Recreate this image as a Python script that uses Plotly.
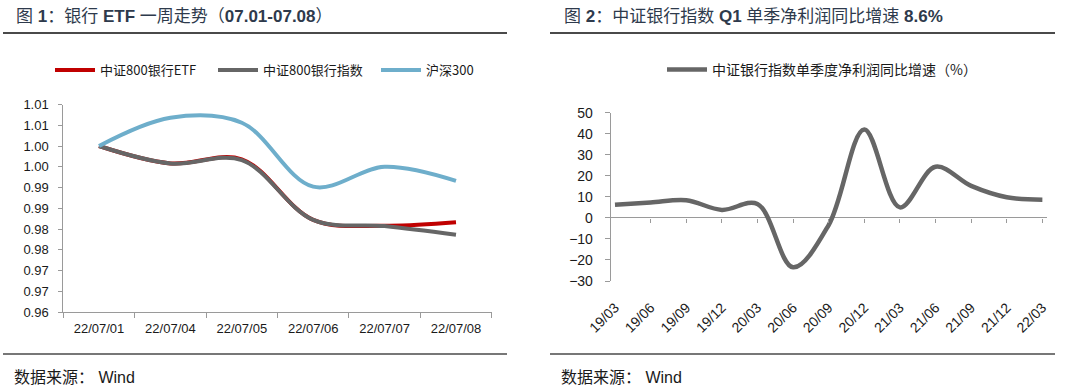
import plotly.graph_objects as go

# ---------------- data ----------------
dates_left = ["22/07/01", "22/07/04", "22/07/05", "22/07/06", "22/07/07", "22/07/08"]
etf_values = [1.0000, 0.9958, 0.9968, 0.9822, 0.9808, 0.9816]
bank_index_values = [1.0000, 0.9958, 0.9966, 0.9822, 0.9807, 0.9786]
hs300_values = [1.0000, 1.0068, 1.0056, 0.9902, 0.9950, 0.9916]
left_ytick_vals = [0.96, 0.965, 0.97, 0.975, 0.98, 0.985, 0.99, 0.995, 1.0, 1.005, 1.01]
left_ytick_text = ["0.96", "0.97", "0.97", "0.98", "0.98", "0.99", "0.99", "1.00", "1.00", "1.01", "1.01"]

quarters = ["19/03", "19/06", "19/09", "19/12", "20/03", "20/06", "20/09",
            "20/12", "21/03", "21/06", "21/09", "21/12", "22/03"]
profit_growth = [6.3, 7.3, 8.4, 3.8, 6.6, -23.5, -3.4, 42.0, 5.0, 24.3, 15.2, 9.8, 8.6]
right_ytick_vals = [-30, -20, -10, 0, 10, 20, 30, 40, 50]

# ---------------- styling ----------------
W, H = 1080, 387
FONT = "Liberation Sans, Arial, Noto Sans CJK SC, sans-serif"
CJK = "Noto Sans CJK SC, Liberation Sans, sans-serif"
TITLE_FONT = "Liberation Sans, Noto Sans CJK SC, sans-serif"
AXIS_COLOR = "#9a9a9a"
TEXT_COLOR = "#1a1a1a"
TITLE_COLOR = "#2e3a4c"
RED = "#c00000"
GRAY = "#666666"
BLUE = "#6eaecb"


def px_x(v):
    return v / W


def px_y(v):
    return (H - v) / H


fig = go.Figure()

# left chart
fig.add_trace(go.Scatter(x=dates_left, y=etf_values, name="中证800银行ETF", mode="lines",
                         line=dict(color=RED, width=4, shape="spline", smoothing=1.0),
                         xaxis="x", yaxis="y", legend="legend"))
fig.add_trace(go.Scatter(x=dates_left, y=bank_index_values, name="中证800银行指数", mode="lines",
                         line=dict(color=GRAY, width=4, shape="spline", smoothing=1.0),
                         xaxis="x", yaxis="y", legend="legend"))
fig.add_trace(go.Scatter(x=dates_left, y=hs300_values, name="沪深300", mode="lines",
                         line=dict(color=BLUE, width=4, shape="spline", smoothing=1.0),
                         xaxis="x", yaxis="y", legend="legend"))

# right chart
fig.add_trace(go.Scatter(x=quarters, y=profit_growth, name="中证银行指数单季度净利润同比增速（%）",
                         mode="lines",
                         line=dict(color=GRAY, width=4.5, shape="spline", smoothing=1.0),
                         xaxis="x2", yaxis="y2", legend="legend2"))
# invisible helper trace for tick marks on the zero line
fig.add_trace(go.Scatter(x=quarters, y=profit_growth, mode="lines", opacity=0,
                         showlegend=False, hoverinfo="skip", xaxis="x3", yaxis="y2"))

left_xdom = [px_x(63.3), px_x(491.7)]
left_ydom = [px_y(312), px_y(104.5)]
right_xdom = [px_x(610.7), px_x(1047)]
right_ydom = [px_y(281), px_y(112.7)]
xr = [-0.12, 12.13]
zero_pos = right_ydom[0] + (right_ydom[1] - right_ydom[0]) * 30 / 80

fig.update_layout(
    template="none",
    width=W, height=H,
    margin=dict(l=0, r=0, t=0, b=0, pad=0, autoexpand=False),
    paper_bgcolor="white", plot_bgcolor="white",
    font=dict(family=FONT, size=13, color=TEXT_COLOR),
    xaxis=dict(domain=left_xdom, anchor="y", type="category", range=[-0.5, 5.5],
               showline=True, linecolor=AXIS_COLOR, linewidth=1, automargin=False,
               ticks="outside", ticklen=5, tickcolor=AXIS_COLOR, tickson="boundaries",
               showgrid=False, zeroline=False, tickfont=dict(size=13, family=FONT),
               ticklabelstandoff=4),
    yaxis=dict(domain=left_ydom, anchor="x", range=[0.96, 1.01], automargin=False,
               tickvals=left_ytick_vals, ticktext=left_ytick_text,
               showline=True, linecolor=AXIS_COLOR, linewidth=1,
               ticks="outside", ticklen=4, tickcolor=AXIS_COLOR,
               showgrid=False, zeroline=False, tickfont=dict(size=13, family=FONT),
               ticklabelstandoff=7),
    xaxis2=dict(domain=right_xdom, anchor="y2", type="category", range=xr, automargin=False,
                showline=False, ticks="outside", ticklen=12, tickcolor="rgba(0,0,0,0)",
                tickangle=-45, showgrid=False, zeroline=False,
                tickfont=dict(size=14, family=FONT)),
    xaxis3=dict(domain=right_xdom, anchor="free", position=zero_pos, overlaying="x2",
                type="category", range=xr, showline=False, showticklabels=False,
                ticks="outside", ticklen=4, tickcolor=AXIS_COLOR, automargin=False,
                tickvals=quarters[1:], showgrid=False, zeroline=False),
    yaxis2=dict(domain=right_ydom, anchor="x2", range=[-30, 50], tickvals=right_ytick_vals,
                showline=True, linecolor=AXIS_COLOR, linewidth=1, automargin=False,
                ticks="outside", ticklen=5, tickcolor=AXIS_COLOR,
                showgrid=False, zeroline=True, zerolinecolor=AXIS_COLOR, zerolinewidth=1,
                tickfont=dict(size=14, family=FONT), ticklabelstandoff=9),
    legend=dict(orientation="h", x=px_x(50), y=px_y(70), xanchor="left", yanchor="middle",
                font=dict(size=13, family=CJK, color=TEXT_COLOR), bgcolor="rgba(0,0,0,0)",
                entrywidth=108, entrywidthmode="pixels", itemwidth=40),
    legend2=dict(orientation="h", x=px_x(662), y=px_y(70), xanchor="left", yanchor="middle",
                 font=dict(size=14, family=CJK, color=TEXT_COLOR), bgcolor="rgba(0,0,0,0)",
                 itemwidth=40),
    showlegend=True,
)

# titles
fig.add_annotation(x=px_x(14), y=px_y(16), xref="paper", yref="paper", xanchor="left",
                   yanchor="middle", showarrow=False,
                   text="图 <b>1</b>：银行 <b>ETF</b> 一周走势（<b>07.01-07.08</b>）",
                   font=dict(size=17, color=TITLE_COLOR, family=TITLE_FONT))
fig.add_annotation(x=px_x(562), y=px_y(16), xref="paper", yref="paper", xanchor="left",
                   yanchor="middle", showarrow=False,
                   text="图 <b>2</b>：中证银行指数 <b>Q1</b> 单季净利润同比增速 <b>8.6%</b>",
                   font=dict(size=17, color=TITLE_COLOR, family=TITLE_FONT))
# footers
for fx in (12, 559):
    fig.add_annotation(x=px_x(fx), y=px_y(377), xref="paper", yref="paper", xanchor="left",
                       yanchor="middle", showarrow=False, text="数据来源： Wind",
                       font=dict(size=16, color=TEXT_COLOR, family=TITLE_FONT))

# separator rules
for x0, x1 in ((3, 507), (550, 1055)):
    fig.add_shape(type="line", xref="paper", yref="paper", x0=px_x(x0), x1=px_x(x1),
                  y0=px_y(33), y1=px_y(33), line=dict(color="#4a4a4a", width=2))
    fig.add_shape(type="line", xref="paper", yref="paper", x0=px_x(x0), x1=px_x(x1),
                  y0=px_y(354), y1=px_y(354), line=dict(color="#4a4a4a", width=1.5))

fig.write_html("out.html", config={"displayModeBar": False},
               post_script="document.body.style.margin='0';document.body.style.overflow='hidden';")
